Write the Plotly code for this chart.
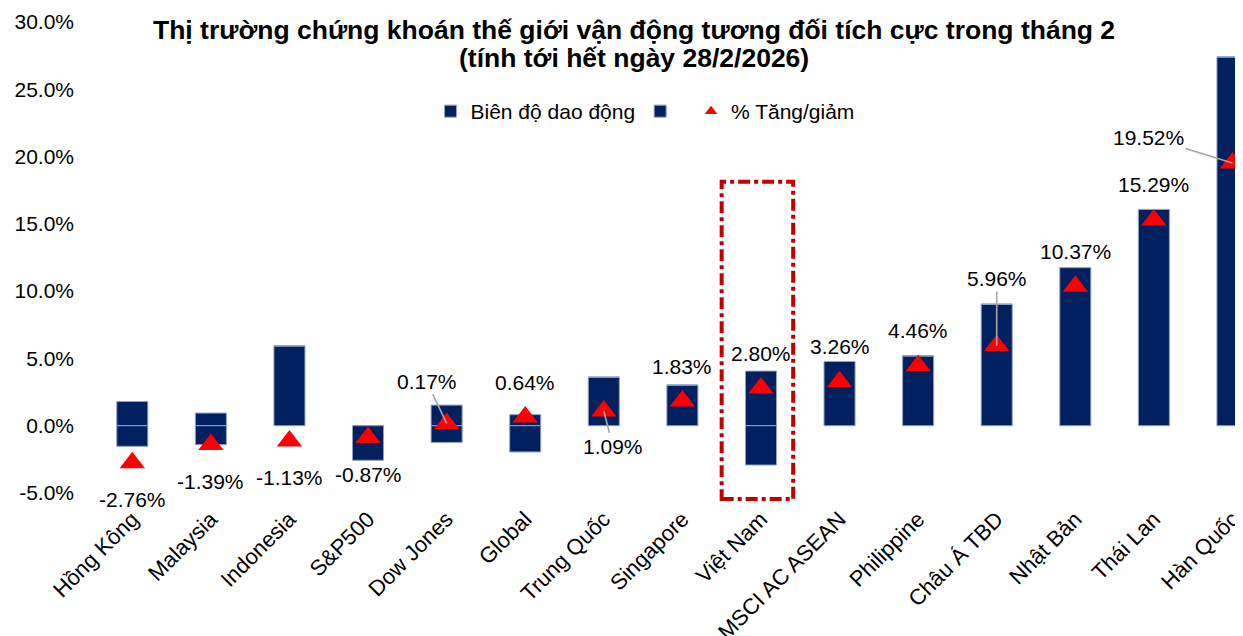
import plotly.graph_objects as go

categories = ["Hồng Kông", "Malaysia", "Indonesia", "S&P500", "Dow Jones", "Global",
              "Trung Quốc", "Singapore", "Việt Nam", "MSCI AC ASEAN", "Philippine",
              "Châu Á TBD", "Nhật Bản", "Thái Lan", "Hàn Quốc"]
range_high = [1.80, 0.94, 5.93, 0.00, 1.53, 0.82, 3.61, 3.02, 4.06, 4.77, 5.19, 9.03, 11.75, 16.07, 27.40]
range_low = [-1.53, -1.41, 0.00, -2.57, -1.24, -1.95, 0.00, 0.00, -2.92, 0.00, 0.00, 0.00, 0.00, 0.00, 0.00]
change = [-2.76, -1.39, -1.13, -0.87, 0.17, 0.64, 1.09, 1.83, 2.80, 3.26, 4.46, 5.96, 10.37, 15.29, 19.52]
y_ticks = [-5, 0, 5, 10, 15, 20, 25, 30]
title_lines = ["Thị trường chứng khoán thế giới vận động tương đối tích cực trong tháng 2",
               "(tính tới hết ngày 28/2/2026)"]

NAVY = "#002060"
EDGE = "#8FA1C2"
RED = "#FF0000"
FONT = "Liberation Sans, Arial, sans-serif"

fig = go.Figure()
fig.add_trace(go.Bar(x=categories, y=range_high, name="Biên độ dao động",
                     marker=dict(color=NAVY, line=dict(color=EDGE, width=1)), width=0.395))
fig.add_trace(go.Bar(x=categories, y=range_low, name=" ",
                     marker=dict(color=NAVY, line=dict(color=EDGE, width=1)), width=0.395))
fig.add_trace(go.Scatter(x=categories, y=change, name="% Tăng/giảm", mode="markers",
                         showlegend=False, legendgroup="chg",
                         marker=dict(symbol="triangle-up", color=RED, size=22,
                                     line=dict(width=0)), cliponaxis=False))
# legend entry with the small legend-sized triangle
fig.add_trace(go.Scatter(x=[None], y=[None], name="% Tăng/giảm", mode="markers",
                         legendgroup="chg",
                         marker=dict(symbol="triangle-up", color=RED, size=11, line=dict(width=0))))

# label offsets (pixels): (dx, dy) for labels with leader lines
offsets = {
    "Dow Jones": (-20, -42),
    "Trung Quốc": (9, 35),
    "Châu Á TBD": (0, -67),
    "Hàn Quốc": (-84, -26),
}
for c, v in zip(categories, change):
    txt = f"{v:.2f}%"
    if c in offsets:
        dx, dy = offsets[c]
        fig.add_annotation(x=c, y=v, text=txt, showarrow=True, ax=dx, ay=dy,
                           arrowhead=0, arrowwidth=1.6, arrowcolor="#A6A6A6", standoff=0,
                           font=dict(size=21, color="#000", family=FONT))
    else:
        dy = -37 if v < 0 else 35
        fig.add_annotation(x=c, y=v, text=txt, showarrow=False, yshift=dy,
                           font=dict(size=21, color="#000", family=FONT))

# title (two lines)
for txt, yy in zip(title_lines, [0.983, 0.9236]):
    fig.add_annotation(xref="paper", yref="paper", x=0.4703, y=yy, text=f"<b>{txt}</b>",
                       showarrow=False, xanchor="center", yanchor="middle",
                       font=dict(size=26.5, color="#000", family=FONT))

# highlight box around Việt Nam
fig.add_shape(type="rect", xref="x", yref="paper", x0=7.5, x1=8.41, y0=-0.013, y1=0.661,
              line=dict(color="#C00000", width=4, dash="dashdot"), fillcolor="rgba(0,0,0,0)")

# page has an 8px body margin, so the figure is sized/offset to compensate
fig.update_layout(
    width=1235, height=628,
    barmode="relative",
    plot_bgcolor="white", paper_bgcolor="white",
    margin=dict(l=85, r=0, t=14, b=143, autoexpand=False),
    font=dict(family=FONT, color="#000"),
    legend=dict(orientation="h", x=0.48, xanchor="center", y=0.81, yanchor="middle",
                font=dict(size=21, color="#000", family=FONT), bgcolor="rgba(0,0,0,0)",
                traceorder="normal", itemwidth=30),
    showlegend=True,
)
fig.update_xaxes(range=[-0.5, 14.134], tickangle=-45, showgrid=False, showline=False,
                 zeroline=False, ticks="", automargin=False, ticklabelstandoff=8,
                 tickfont=dict(size=22, family=FONT, color="#000"))
fig.update_yaxes(range=[-5, 30], tickvals=y_ticks, ticktext=[f"{t:.1f}%" for t in y_ticks],
                 showgrid=False, zeroline=False, showline=False, ticks="", automargin=False,
                 ticklabelstandoff=18, tickfont=dict(size=21, family=FONT, color="#000"))

fig.write_html("out.html")
